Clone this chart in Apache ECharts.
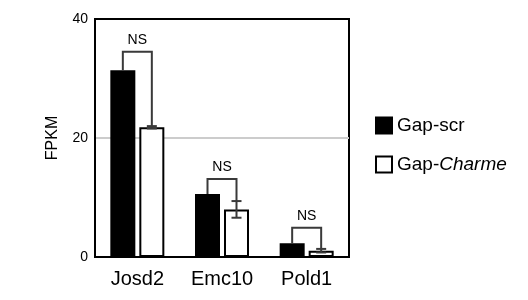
<!DOCTYPE html>
<html>
<head>
<meta charset="utf-8">
<script src="https://cdn.jsdelivr.net/npm/echarts@6/dist/echarts.min.js"></script>
<style>
  html, body { margin: 0; padding: 0; background: #fff; }
  #chart { width: 528px; height: 300px; }
</style>
</head>
<body>
<div id="chart"></div>
<script>
// values
var genes = ['Josd2', 'Emc10', 'Pold1'];
var scrVals = [31.4, 10.6, 2.3];
var charmeVals = [21.8, 8.0, 1.06];
var charmeErr = [0.2, 1.4, 0.3];
var bracketTop = [34.5, 13.1, 4.9];
var sigLabels = ['NS', 'NS', 'NS'];
var yTicks = [0, 20, 40];

var FONT = '"Liberation Sans", Arial, sans-serif';
var BAR_W = 25;
var HALF = 14.5; // offset of each bar centre from the category centre

var annoData = [];
for (var i = 0; i < genes.length; i++) {
    annoData.push([i, scrVals[i], charmeVals[i] - charmeErr[i], charmeVals[i] + charmeErr[i], bracketTop[i]]);
}

function renderAnno(params, api) {
    var c = api.value(0);
    var pBlack = api.coord([c, api.value(1)]);
    var pLow = api.coord([c, api.value(2)]);
    var pHigh = api.coord([c, api.value(3)]);
    var pTop = api.coord([c, api.value(4)]);
    var xl = pBlack[0] - HALF, xr = pBlack[0] + HALF;
    var st = { stroke: '#3a3a3a', lineWidth: 2, fill: null };
    return {
        type: 'group',
        children: [
            { type: 'polyline', shape: { points: [[xl, pBlack[1]], [xl, pTop[1]], [xr, pTop[1]], [xr, pLow[1]]] }, style: st },
            { type: 'line', shape: { x1: xr - 5, y1: pHigh[1], x2: xr + 5, y2: pHigh[1] }, style: st },
            { type: 'line', shape: { x1: xr - 5, y1: pLow[1], x2: xr + 5, y2: pLow[1] }, style: st },
            { type: 'text', x: pBlack[0], y: pTop[1] - 5,
              style: { text: sigLabels[params.dataIndex], fill: '#000', font: '14px ' + FONT, align: 'center', verticalAlign: 'bottom' } }
        ]
    };
}

var myChart = echarts.init(document.getElementById('chart'));
var option = {
    backgroundColor: '#fff',
    animation: false,
    textStyle: { fontFamily: FONT },
    grid: {
        left: 95, right: 179, top: 19, bottom: 43,
        show: true, borderColor: '#000', borderWidth: 2, backgroundColor: 'transparent'
    },
    legend: {
        orient: 'vertical',
        left: 370, top: 111,
        itemWidth: 16, itemHeight: 16, itemGap: 20,
        icon: 'rect',
        data: ['Gap-scr', 'Gap-Charme'],
        formatter: function (name) {
            return name === 'Gap-Charme' ? '{n|Gap-}{i|Charme}' : '{n|Gap-scr}';
        },
        textStyle: {
            rich: {
                n: { fontSize: 19, fontFamily: FONT, color: '#000' },
                i: { fontSize: 19, fontFamily: FONT, fontStyle: 'italic', color: '#000' }
            }
        }
    },
    xAxis: {
        type: 'category',
        data: genes,
        axisLine: { lineStyle: { color: '#000', width: 2 } },
        axisTick: { show: false },
        axisLabel: { color: '#000', fontSize: 20, margin: 12, fontFamily: FONT }
    },
    yAxis: {
        type: 'value',
        min: 0, max: 40, interval: 20,
        name: 'FPKM',
        nameLocation: 'middle',
        nameGap: 34,
        nameTextStyle: { color: '#000', fontSize: 16, fontFamily: FONT },
        axisLine: { show: true, lineStyle: { color: '#000', width: 2 } },
        axisTick: { show: false },
        axisLabel: {
            color: '#000', fontSize: 14, margin: 7, fontFamily: FONT,
            formatter: function (v) { return yTicks.indexOf(v) >= 0 ? String(v) : ''; }
        },
        splitLine: { show: true, showMinLine: false, showMaxLine: false, lineStyle: { color: '#cccccc', width: 2 } }
    },
    series: [
        {
            name: 'Gap-scr',
            type: 'bar',
            barWidth: BAR_W,
            barGap: '16%',
            itemStyle: { color: '#000', borderColor: '#000', borderWidth: 2 },
            data: scrVals
        },
        {
            name: 'Gap-Charme',
            type: 'bar',
            barWidth: BAR_W,
            itemStyle: { color: '#fff', borderColor: '#000', borderWidth: 2 },
            data: charmeVals
        },
        {
            name: 'anno',
            type: 'custom',
            renderItem: renderAnno,
            data: annoData,
            z: 10,
            silent: true
        }
    ]
};
myChart.setOption(option);
</script>
</body>
</html>
